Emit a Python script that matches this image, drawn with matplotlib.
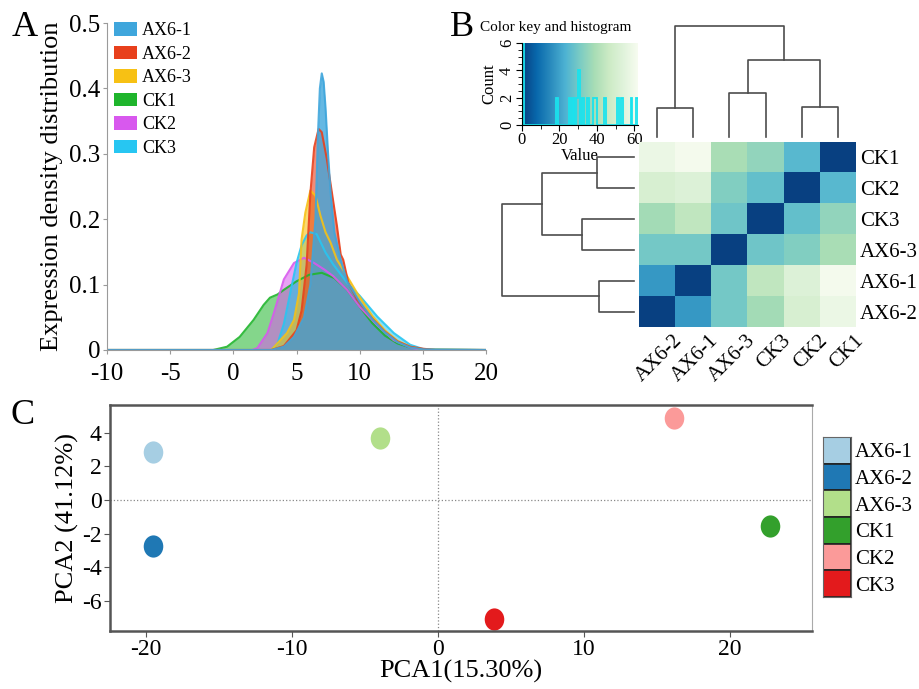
import numpy as np
import matplotlib
matplotlib.use("Agg")
import matplotlib.pyplot as plt
import matplotlib.transforms as mtransforms
from matplotlib.patches import Patch
from matplotlib.path import Path

plt.rcParams['font.family'] = 'serif'
plt.rcParams['font.serif'] = ['Liberation Serif', 'DejaVu Serif']
plt.rcParams['axes.unicode_minus'] = False

W, H = 919, 689

# ---------------- A: expression density curves ----------------
dens_names = ['AX6-1', 'AX6-2', 'AX6-3', 'CK1', 'CK2', 'CK3']
dens_colors = ['#3fa6dc', '#e8401c', '#f7c114', '#1fb52c', '#d858ee', '#27c6f2']
dens_alpha = [0.8, 0.6, 0.6, 0.55, 0.55, 0.55]

ax61_x = [-10, 3.0, 4.0, 4.8, 5.6, 6.1, 6.5, 6.7, 6.85, 7.0, 7.15, 7.3, 7.5, 7.7, 8.0, 8.5, 9.0, 10.0, 11.0, 12.0, 13.0, 14.0, 15.0, 20]
ax61_y = [0, 0, 0.005, 0.02, 0.05, 0.1, 0.2, 0.33, 0.40, 0.423, 0.41, 0.37, 0.30, 0.24, 0.18, 0.138, 0.105, 0.074, 0.047, 0.027, 0.012, 0.004, 0.001, 0]
ax62_x = [-10, 3.0, 4.0, 5.0, 5.4, 5.8, 6.1, 6.4, 6.75, 7.0, 7.4, 7.8, 8.2, 8.5, 8.7, 9.1, 9.8, 11.0, 12.0, 13.0, 14.0, 15.0, 16.0, 20]
ax62_y = [0, 0, 0.006, 0.03, 0.06, 0.13, 0.24, 0.31, 0.338, 0.333, 0.292, 0.241, 0.19, 0.146, 0.138, 0.103, 0.077, 0.048, 0.028, 0.013, 0.005, 0.002, 0, 0]
ax63_x = [-10, 3.0, 4.25, 4.8, 5.2, 5.4, 5.7, 6.1, 6.5, 6.9, 7.3, 7.7, 8.2, 9.0, 9.8, 11.0, 12.0, 13.0, 14.0, 15.0, 20]
ax63_y = [0, 0, 0.026, 0.046, 0.087, 0.169, 0.21, 0.244, 0.236, 0.205, 0.18, 0.164, 0.138, 0.113, 0.087, 0.052, 0.03, 0.014, 0.005, 0.001, 0]
ck1_x = [-10, -1.6, -0.5, 0.5, 1.6, 2.4, 2.9, 3.5, 4.0, 5.0, 6.0, 7.0, 8.0, 9.0, 10.0, 11.0, 12.0, 13.0, 14.0, 15.0, 16.0, 20]
ck1_y = [0, 0, 0.005, 0.02, 0.046, 0.069, 0.08, 0.085, 0.092, 0.105, 0.115, 0.118, 0.11, 0.092, 0.066, 0.041, 0.022, 0.01, 0.004, 0.001, 0, 0]
ck2_x = [-10, 1.5, 1.9, 2.7, 3.2, 4.0, 4.8, 5.6, 6.4, 7.2, 7.9, 9.0, 10.0, 11.4, 12.7, 14.0, 14.8, 20]
ck2_y = [0, 0, 0.003, 0.026, 0.056, 0.108, 0.133, 0.141, 0.133, 0.123, 0.113, 0.092, 0.066, 0.038, 0.015, 0.004, 0, 0]
ck3_x = [-10, 3.0, 3.5, 4.0, 4.5, 5.0, 5.4, 5.8, 6.1, 6.6, 7.3, 7.9, 9.0, 10.0, 11.4, 12.7, 14.0, 15.1, 20]
ck3_y = [0, 0, 0.01, 0.04, 0.087, 0.133, 0.16, 0.175, 0.18, 0.177, 0.149, 0.131, 0.103, 0.083, 0.051, 0.026, 0.008, 0.001, 0]
dens_x = [ax61_x, ax62_x, ax63_x, ck1_x, ck2_x, ck3_x]
dens_y = [ax61_y, ax62_y, ax63_y, ck1_y, ck2_y, ck3_y]
draw_order = [3, 4, 5, 2, 1, 0]

# ---------------- B: sample distance heatmap ----------------
row_names = ['CK1', 'CK2', 'CK3', 'AX6-3', 'AX6-1', 'AX6-2']
col_names = ['AX6-2', 'AX6-1', 'AX6-3', 'CK3', 'CK2', 'CK1']
dist = np.array([
    [58, 61, 39, 35, 25, 0],
    [51, 53, 32, 27, 0, 25],
    [38, 44, 29, 0, 27, 35],
    [30, 30, 0, 29, 32, 39],
    [18, 0, 30, 44, 53, 61],
    [0, 18, 30, 38, 51, 58],
])
# merges: (left cluster, right cluster, height); leaves are 0..5 in display order
col_merges = [(0, 1, 29), (4, 5, 30), (2, 3, 44), (8, 7, 77), (6, 9, 111)]
row_merges = [(0, 1, 37), (2, 3, 52), (4, 5, 35), (6, 7, 92), (9, 8, 132)]

# ---------------- C: PCA ----------------
pca_names = ['AX6-1', 'AX6-2', 'AX6-3', 'CK1', 'CK2', 'CK3']
pca_colors = ['#a6cee3', '#1f78b4', '#b2df8a', '#33a02c', '#fb9a99', '#e31a1c']
pca1 = [-19.5, -19.5, -3.95, 22.7, 16.15, 3.85]
pca2 = [2.84, -2.72, 3.71, -1.55, 4.86, -7.04]


def box(x0, y0, x1, y1):
    # pixel box (top-left origin) -> figure rect
    return [x0 / W, 1 - y1 / H, (x1 - x0) / W, (y1 - y0) / H]


def draw_dendro(ax, merges, n, side):
    pos = {i: i + 0.5 for i in range(n)}
    hgt = {i: 0.0 for i in range(n)}
    for k, (a, b, h) in enumerate(merges):
        p = [pos[a], pos[a], pos[b], pos[b]]
        q = [hgt[a], h, h, hgt[b]]
        if side == 'top':
            ax.plot(p, q, color='#4d4d4d', lw=1.2, clip_on=False)
        else:
            ax.plot(q, p, color='#4d4d4d', lw=1.2, clip_on=False)
        pos[n + k] = (pos[a] + pos[b]) / 2
        hgt[n + k] = h


fig = plt.figure(figsize=(W / 100, H / 100), dpi=100)

# Panel A
axA = fig.add_axes(box(107, 23, 486, 350))
for i in draw_order:
    axA.fill_between(dens_x[i], dens_y[i], 0, color=dens_colors[i], alpha=dens_alpha[i], lw=0)
for i in draw_order:
    axA.plot(dens_x[i], dens_y[i], color=dens_colors[i], lw=1.5, alpha=0.9)
axA.set_xlim(-10, 20)
axA.set_ylim(0, 0.5)
axA.set_xticks(np.arange(-10, 21, 5))
axA.set_yticks(np.arange(0, 0.51, 0.1))
axA.set_yticklabels(['0', '0.1', '0.2', '0.3', '0.4', '0.5'])
for s in ['top', 'right']:
    axA.spines[s].set_visible(False)
for s in ['left', 'bottom']:
    axA.spines[s].set_color('#9a9a9a')
axA.tick_params(labelsize=18, color='#9a9a9a', length=3, pad=2)
axA.tick_params(axis='x', pad=6)
axA.set_ylabel('Expression density distribution', fontsize=19)
axA.yaxis.set_label_coords(-0.115, 0.5)
handles = [Patch(facecolor=c, edgecolor='none') for c in dens_colors]
axA.legend(handles, dens_names, loc='upper left', bbox_to_anchor=(114 / W, 1 - 22 / H),
           bbox_transform=fig.transFigure, frameon=False, fontsize=13,
           handlelength=1.3, handleheight=0.8, labelspacing=0.35,
           handletextpad=0.25, borderpad=0, borderaxespad=0)

# Panel B: color key
axK = fig.add_axes(box(522, 43, 638, 125))
grad = np.linspace(0, 62, 256).reshape(1, -1)
axK.imshow(grad, cmap='GnBu_r', vmin=0, vmax=62, aspect='auto', extent=(0, 62, 0, 6))
axK.hist(dist.ravel(), bins=np.arange(0, 63, 1), histtype='step', color='#19e3ee', lw=1.3)
axK.set_xlim(0, 62)
axK.set_ylim(0, 6)
axK.set_xticks([0, 20, 40, 60])
axK.set_xticks([10, 30, 50], minor=True)
axK.set_yticks([0, 2, 4, 6])
axK.set_yticks(np.arange(0, 6.1, 0.5), minor=True)
axK.tick_params(labelsize=12, length=4, pad=1)
axK.tick_params(which='minor', length=3)
for lab in axK.get_yticklabels():
    lab.set_rotation(90)
    lab.set_va('center')
for s in ['top', 'right']:
    axK.spines[s].set_visible(False)
axK.set_xlabel('Value', fontsize=12, labelpad=0)
axK.set_ylabel('Count', fontsize=12, labelpad=1)
fig.text(480 / W, 1 - 27 / H, 'Color key and histogram', fontsize=11, va='center')

# Panel B: heatmap
axH = fig.add_axes(box(639, 142, 856, 327))
axH.imshow(dist, cmap='GnBu_r', vmin=0, vmax=62, aspect='auto', extent=(0, 6, 6, 0))
axH.set_xticks(np.arange(6) + 0.5)
axH.set_xticklabels(col_names, rotation=45, ha='right', va='top', rotation_mode='anchor', fontsize=15)
axH.set_yticks(np.arange(6) + 0.5)
axH.set_yticklabels(row_names, fontsize=15)
axH.yaxis.tick_right()
axH.tick_params(length=0, pad=3)
shift = mtransforms.ScaledTranslation(16 / 100, 0, fig.dpi_scale_trans)
for lab in axH.get_xticklabels():
    lab.set_transform(lab.get_transform() + shift)
for s in axH.spines.values():
    s.set_visible(False)

axT = fig.add_axes(box(639, 26, 856, 137))
draw_dendro(axT, col_merges, 6, 'top')
axT.set_xlim(0, 6)
axT.set_ylim(0, 111)
axT.axis('off')

axL = fig.add_axes(box(502, 142, 634, 327))
draw_dendro(axL, row_merges, 6, 'left')
axL.set_xlim(132, 0)
axL.set_ylim(6, 0)
axL.axis('off')

# Panel C
axC = fig.add_axes(box(110, 405, 812, 631))
ell = Path.unit_circle().transformed(mtransforms.Affine2D().scale(0.88, 1.0))
for i in range(len(pca_names)):
    axC.plot(pca1[i], pca2[i], marker=ell, markersize=16, color=pca_colors[i],
             markeredgecolor='none', linestyle='none')
axC.axhline(0, color='#888888', lw=0.9, ls=':')
axC.axvline(0, color='#888888', lw=0.9, ls=':')
axC.set_xlim(-22.45, 25.6)
axC.set_ylim(-7.78, 5.65)
axC.set_xticks([-20, -10, 0, 10, 20])
axC.set_yticks([-6, -4, -2, 0, 2, 4])
for s in ['top', 'bottom', 'left']:
    axC.spines[s].set_color('#555555')
    axC.spines[s].set_linewidth(1.8)
axC.spines['right'].set_color('#aaaaaa')
axC.tick_params(labelsize=17, length=4, color='#555555', pad=2)
axC.set_xlabel('PCA1(15.30%)', fontsize=19, labelpad=0)
axC.set_ylabel('PCA2 (41.12%)', fontsize=19, labelpad=2)

axG = fig.add_axes(box(823, 437, 851, 597))
axG.barh(np.arange(6), [1] * 6, height=1, color=pca_colors, edgecolor='#222222', lw=1.2)
axG.set_xlim(0, 1)
axG.set_ylim(5.5, -0.5)
axG.set_xticks([])
axG.set_yticks(np.arange(6))
axG.set_yticklabels(pca_names, fontsize=15)
axG.yaxis.tick_right()
axG.tick_params(length=0, pad=3)
for s in axG.spines.values():
    s.set_color('#666666')

fig.text(25 / W, 1 - 28 / H, 'A', fontsize=26, ha='center', va='center')
fig.text(462 / W, 1 - 28 / H, 'B', fontsize=26, ha='center', va='center')
fig.text(23 / W, 1 - 415 / H, 'C', fontsize=26, ha='center', va='center')

fig.savefig('out.png', dpi=100)
